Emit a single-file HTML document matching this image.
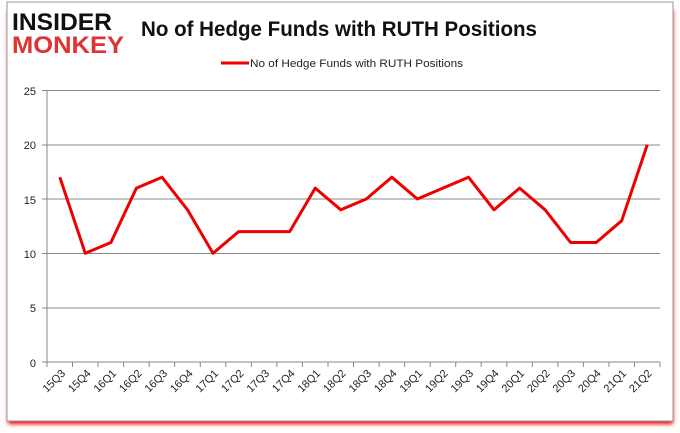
<!DOCTYPE html><html><head><style>body{margin:0;background:#fff}svg{display:block}</style></head><body>
<svg width="680" height="433" xmlns="http://www.w3.org/2000/svg" font-family="Liberation Sans, sans-serif">
<defs><filter id="s" x="-5%" y="-5%" width="110%" height="115%"><feGaussianBlur stdDeviation="2"/></filter></defs>
<rect x="8" y="10" width="665" height="414" fill="#e00" filter="url(#s)"/>
<rect x="7" y="2" width="666" height="419" fill="#fff" stroke="#999" stroke-width="1"/>
<text x="12" y="30" font-size="24" font-weight="bold" fill="#111" textLength="100" lengthAdjust="spacingAndGlyphs">INSIDER</text>
<text x="12" y="53" font-size="24" font-weight="bold" fill="#d33" textLength="112" lengthAdjust="spacingAndGlyphs">MONKEY</text>
<text x="141" y="36" font-size="21" font-weight="bold" fill="#111" textLength="396" lengthAdjust="spacingAndGlyphs">No of Hedge Funds with RUTH Positions</text>
<line x1="221" y1="63" x2="249" y2="63" stroke="#e00" stroke-width="3"/>
<text x="250" y="67" font-size="11" fill="#222" textLength="213" lengthAdjust="spacingAndGlyphs">No of Hedge Funds with RUTH Positions</text>
<g stroke="#888" stroke-width="1">
<line x1="42" y1="90.5" x2="660" y2="90.5"/><line x1="42" y1="145" x2="660" y2="145"/><line x1="42" y1="199" x2="660" y2="199"/><line x1="42" y1="253.5" x2="660" y2="253.5"/><line x1="42" y1="308" x2="660" y2="308"/><line x1="42" y1="362" x2="660" y2="362"/>
<line x1="47" y1="90" x2="47" y2="362"/>
<path d="M47 362v5M72.5 362v5M98 362v5M123.6 362v5M149.2 362v5M174.7 362v5M200.3 362v5M225.8 362v5M251.4 362v5M276.9 362v5M302.4 362v5M328 362v5M353.5 362v5M379.1 362v5M404.6 362v5M430.2 362v5M455.7 362v5M481.2 362v5M506.8 362v5M532.3 362v5M557.9 362v5M583.4 362v5M609 362v5M634.5 362v5M660 362v5"/>
</g>
<g font-size="11" fill="#222" text-anchor="end">
<text x="36" y="95">25</text><text x="36" y="149">20</text><text x="36" y="204">15</text><text x="36" y="258">10</text><text x="36" y="312">5</text><text x="36" y="367">0</text>
</g>
<polyline fill="none" stroke="#e00" stroke-width="3" stroke-linejoin="round" points="59.8,177.2 85.3,253.3 110.9,242.5 136.4,188.1 162,177.2 187.5,209.8 213,253.3 238.6,231.6 264.1,231.6 289.7,231.6 315.2,188.1 340.8,209.8 366.3,199 391.8,177.2 417.4,199 442.9,188.1 468.5,177.2 494,209.8 519.6,188.1 545.1,209.8 570.6,242.5 596.2,242.5 621.7,220.7 647.3,144.6"/>
<g font-size="11" fill="#222" text-anchor="end">
<text transform="translate(66,374) rotate(-45)">15Q3</text><text transform="translate(91.5,374) rotate(-45)">15Q4</text><text transform="translate(117,374) rotate(-45)">16Q1</text><text transform="translate(142.5,374) rotate(-45)">16Q2</text><text transform="translate(168,374) rotate(-45)">16Q3</text><text transform="translate(193.5,374) rotate(-45)">16Q4</text><text transform="translate(219,374) rotate(-45)">17Q1</text><text transform="translate(244.5,374) rotate(-45)">17Q2</text><text transform="translate(270,374) rotate(-45)">17Q3</text><text transform="translate(295.5,374) rotate(-45)">17Q4</text><text transform="translate(321,374) rotate(-45)">18Q1</text><text transform="translate(346.5,374) rotate(-45)">18Q2</text><text transform="translate(372,374) rotate(-45)">18Q3</text><text transform="translate(397.5,374) rotate(-45)">18Q4</text><text transform="translate(423,374) rotate(-45)">19Q1</text><text transform="translate(448.5,374) rotate(-45)">19Q2</text><text transform="translate(474,374) rotate(-45)">19Q3</text><text transform="translate(499.5,374) rotate(-45)">19Q4</text><text transform="translate(525,374) rotate(-45)">20Q1</text><text transform="translate(550.5,374) rotate(-45)">20Q2</text><text transform="translate(576,374) rotate(-45)">20Q3</text><text transform="translate(601.5,374) rotate(-45)">20Q4</text><text transform="translate(627,374) rotate(-45)">21Q1</text><text transform="translate(652.5,374) rotate(-45)">21Q2</text>
</g>
</svg></body></html>
